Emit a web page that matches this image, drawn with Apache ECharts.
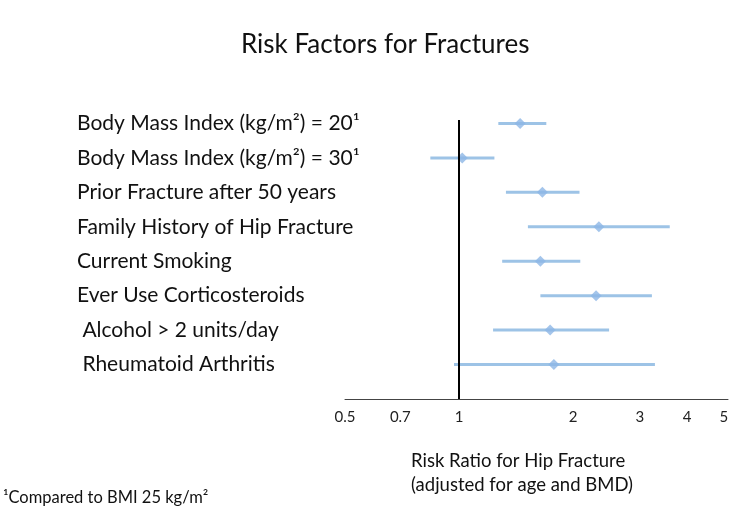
<!DOCTYPE html>
<html><head><meta charset="utf-8">
<script src="https://cdn.jsdelivr.net/npm/echarts@6/dist/echarts.min.js"></script>
<style>html,body{margin:0;padding:0;background:#fff}#c{width:734px;height:510px}</style>
</head><body><div id="c"></div>
<script>
const categories = [
  "Body Mass Index (kg/m²) = 20¹",
  "Body Mass Index (kg/m²) = 30¹",
  "Prior Fracture after 50 years",
  "Family History of Hip Fracture",
  "Current Smoking",
  "Ever Use Corticosteroids",
  " Alcohol > 2 units/day",
  " Rheumatoid Arthritis"
];
const estimate = [1.45, 1.02, 1.66, 2.34, 1.64, 2.30, 1.74, 1.78];
const lower    = [1.27, 0.84, 1.33, 1.52, 1.30, 1.64, 1.23, 0.97];
const upper    = [1.70, 1.24, 2.08, 3.60, 2.09, 3.23, 2.49, 3.29];
const tickValues = [0.5, 0.7, 1, 2, 3, 4, 5];

const font = "Lato, 'Open Sans', sans-serif";
const ciData = categories.map((c, i) => [lower[i], upper[i], i + 1]);
const ptData = categories.map((c, i) => [estimate[i], i + 1]);

const chart = echarts.init(document.getElementById('c'));
chart.setOption({
  animation: false,
  title: {
    text: 'Risk Factors for Fractures',
    left: 236, top: 27,
    textStyle: { fontFamily: font, fontSize: 26, fontWeight: 'normal', color: '#111' }
  },
  grid: { left: 345, right: 6, top: 120, bottom: 111 },
  xAxis: {
    type: 'log', logBase: 10, min: 0.5, max: 5.13,
    axisLine: { show: true, lineStyle: { color: '#444', width: 1 } },
    axisTick: { show: false },
    splitLine: { show: false },
    axisLabel: {
      customValues: tickValues,
      margin: 11,
      fontFamily: font, fontSize: 15, color: '#222',
      formatter: v => String(v)
    }
  },
  yAxis: {
    type: 'value', inverse: true, min: 0.9, max: 9,
    axisLine: { show: false }, axisTick: { show: false }, splitLine: { show: false },
    axisLabel: {
      customValues: categories.map((c, i) => i + 1),
      align: 'left', margin: 268,
      fontFamily: font, fontSize: 21, color: '#111',
      formatter: v => categories[Math.round(v) - 1] || ''
    }
  },
  graphic: [
    { type: 'text', left: 411, top: 449,
      style: { text: 'Risk Ratio for Hip Fracture\n(adjusted for age and BMD)', font: '18.5px ' + font, fill: '#111', lineHeight: 24 } },
    { type: 'text', left: 3, top: 489,
      style: { text: '¹Compared to BMI 25 kg/m²', font: '16.5px ' + font, fill: '#111' } }
  ],
  series: [
    {
      type: 'custom',
      data: ciData,
      encode: { x: [0, 1], y: 2 },
      renderItem: (params, api) => {
        const a = api.coord([api.value(0), api.value(2)]);
        const b = api.coord([api.value(1), api.value(2)]);
        return { type: 'line', shape: { x1: a[0], y1: a[1], x2: b[0], y2: b[1] },
                 style: { stroke: '#9dc3e6', lineWidth: 3 } };
      },
      z: 2
    },
    {
      type: 'scatter',
      data: ptData,
      symbol: 'diamond', symbolSize: 11,
      itemStyle: { color: '#8db6e6' },
      z: 3,
      markLine: {
        silent: true, symbol: 'none', label: { show: false },
        lineStyle: { color: '#000', width: 2, type: 'solid' },
        data: [{ xAxis: 1 }]
      }
    }
  ]
});
</script>
</body></html>
